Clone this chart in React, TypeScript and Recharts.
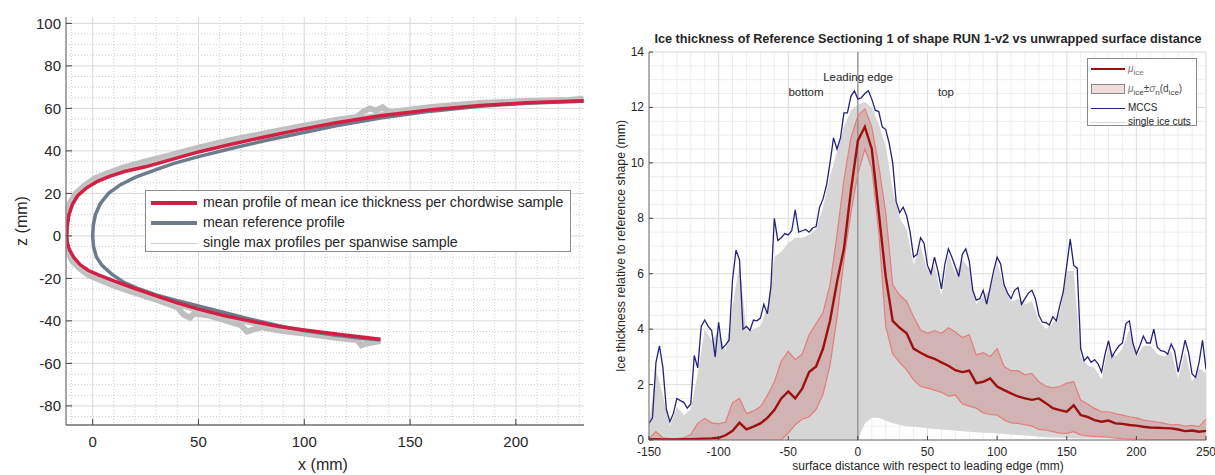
import React from 'react';
import { ComposedChart, Line, Area, XAxis, YAxis, CartesianGrid, ReferenceLine } from 'recharts';

const FONT = '"Liberation Sans", Arial, Helvetica, sans-serif';

// ---------- Left panel: profiles in the (x, z) plane, mm ----------
// Each branch runs from the leading edge towards the trailing end.
const meanIceUpper: [number, number][] = [
  [-12.3, 0], [-12, 5], [-11.2, 10], [-9.5, 15], [-7, 19], [-3, 22.5], [2, 25.5], [8, 28],
  [15, 30.3], [25, 32.5], [35, 35.3], [50, 39.5], [65, 43], [80, 46.3], [98, 50], [115, 53.2],
  [136, 56.5], [160, 59.3], [183, 61.3], [205, 62.6], [232, 63.6],
];
const meanIceLower: [number, number][] = [
  [-12.3, 0], [-12, -3], [-11, -6.5], [-9, -10], [-6, -13.5], [-2, -16.3], [3, -18.5], [10, -21.2],
  [19, -24.4], [30, -28.2], [40, -31.5], [50, -34.5], [62, -37.5], [74, -40], [88, -42.6],
  [100, -44.3], [115, -46.2], [125, -47.4], [136, -48.6],
];
const refUpper: [number, number][] = [
  [0, 0], [0.3, 5], [1.3, 10], [3.5, 15], [7.5, 20], [13, 24], [20, 27.5], [28, 30.5], [38, 34],
  [50, 37.3], [65, 41], [80, 44.5], [98, 48.3], [115, 51.8], [136, 55.5], [160, 58.7], [183, 61],
  [205, 62.4], [232, 63.4],
];
const refLower: [number, number][] = [
  [0, 0], [0.4, -5], [1.8, -10], [4.5, -14], [9, -18], [15, -22], [22, -25], [30, -27.8], [40, -30.5],
  [50, -33], [62, -36], [75, -39.3], [88, -42.3], [100, -44.6], [115, -46.8], [125, -48], [136, -49],
];
const singleOuterUpper: [number, number][] = [
  [-12.6, 0], [-12.5, 6], [-12, 11], [-10.5, 16], [-8, 20], [-4, 23.5], [1, 27], [7, 29.5], [14, 32],
  [25, 35], [35, 37.5], [50, 41.5], [65, 45], [80, 48], [98, 51.5], [115, 54.5], [125, 56], [128, 58.5],
  [131, 60], [134, 59], [137, 60.5], [140, 58.2], [160, 60.7], [183, 62.5], [205, 63.5], [225, 64],
  [232, 64.5],
];
const singleOuterLower: [number, number][] = [
  [-12.6, 0], [-12.5, -4], [-11.5, -8], [-9.5, -12], [-6, -15.5], [-2, -18.5], [3, -20.5], [10, -23.5],
  [19, -26.5], [30, -30], [40, -33.5], [43, -37], [46, -38.5], [48, -36.5], [55, -37.5], [62, -39.5],
  [70, -42], [73, -45], [76, -44], [80, -43], [88, -44.5], [100, -46], [115, -48], [125, -49],
  [127, -51.5], [130, -50.5], [136, -49.5],
];
const singleInnerUpper: [number, number][] = [
  [-12.4, 0], [-12.2, 6], [-11.5, 11], [-9.8, 15.5], [-7, 19.8], [-3, 23.3], [2, 26.3], [8, 28.8],
  [15, 31.2], [25, 33.7], [35, 36.4], [50, 40.5], [65, 44], [80, 47.2], [98, 50.8], [115, 54],
  [136, 57.3], [160, 60], [183, 62], [205, 63.1], [232, 64],
];
const singleInnerLower: [number, number][] = [
  [-12.4, 0], [-12.2, -3.5], [-11.2, -7.2], [-9.2, -11], [-6, -14.5], [-2, -17.3], [3, -19.5],
  [10, -22.3], [19, -25.4], [30, -29.2], [40, -32.5], [50, -35.5], [62, -38.5], [74, -41], [88, -43.5],
  [100, -45.2], [115, -47.2], [125, -48.3], [136, -49.2],
];

const leftXTicks = [0, 50, 100, 150, 200];
const leftYTicks = [-80, -60, -40, -20, 0, 20, 40, 60, 80, 100];
const leftXMinor = [-10, 10, 20, 30, 40, 60, 70, 80, 90, 110, 120, 130, 140, 160, 170, 180, 190, 210, 220, 230];
const leftYMinor = [-85, -75, -70, -65, -55, -50, -45, -35, -30, -25, -15, -10, -5, 5, 10, 15, 25, 30, 35, 45, 50, 55, 65, 70, 75, 85, 90, 95];

// join the lower branch (reversed) and the upper branch into one curve around the nose
const profile = (lower: [number, number][], upper: [number, number][]) =>
  [...lower.slice().reverse(), ...upper.slice(1)].map(([x, z]) => ({ x, z }));

// ---------- Right panel: ice thickness vs surface distance ----------
// sample positions: every 5 mm from -150 to 250
const sx = Array.from({ length: 81 }, (_, i) => -150 + 5 * i);
const muIce = [
  0.02, 0.03, 0.02, 0.02, 0.02, 0.03, 0.03, 0.04, 0.05, 0.06, 0.08,
  0.17, 0.33, 0.62, 0.38, 0.48, 0.6, 0.8, 1.08, 1.5, 1.75,
  1.5, 1.85, 2.45, 2.65, 3.3, 4.3, 5.7, 6.9, 9.0, 10.8,
  11.3, 10.5, 8.2, 5.9, 4.3, 4.05, 3.85, 3.3, 3.15, 3.02,
  2.93, 2.8, 2.68, 2.52, 2.45, 2.5, 2.05, 2.1, 2.22, 1.93,
  1.8, 1.68, 1.57, 1.5, 1.45, 1.5, 1.33, 1.15, 1.08, 1.02,
  1.25, 0.9, 0.83, 0.72, 0.66, 0.7, 0.6, 0.58, 0.54, 0.52,
  0.48, 0.45, 0.44, 0.43, 0.42, 0.38, 0.32, 0.34, 0.3, 0.33,
];
const sigmaHi = [
  0.05, 0.3, 0.08, 0.05, 0.05, 0.08, 0.2, 0.6, 0.78, 0.62, 0.58,
  0.65, 1.35, 1.5, 0.95, 1.05, 1.2, 1.6, 2.1, 2.85, 3.2,
  2.9, 3.1, 3.8, 4.2, 4.6, 5.6, 7.4, 9.4, 10.9, 11.7,
  11.95, 11.3, 9.9, 8.2, 5.6, 5.23, 5.0, 4.45, 3.97, 3.85,
  3.95, 3.85, 4.05, 3.9, 3.7, 3.8, 3.07, 3.15, 3.01, 3.3,
  2.65, 2.5, 2.5, 2.35, 2.4, 2.1, 1.95, 1.88, 1.93, 2.05,
  2.1, 1.44, 1.3, 1.14, 1.02, 1.02, 0.95, 0.9, 0.84, 0.8,
  0.72, 0.68, 0.65, 0.6, 0.55, 0.56, 0.5, 0.53, 0.48, 0.75,
];
const sigmaLo = [
  0, 0, 0, 0, 0, 0, 0, 0, 0, 0, 0,
  0, 0, 0, 0, 0, 0, 0, 0, 0, 0.25,
  0.55, 0.75, 0.84, 1.1, 1.65, 2.7, 4.4, 6.5, 8.2, 9.6,
  10.5, 9.8, 7.5, 4.1, 3.1, 2.8, 2.53, 2.17, 1.93, 1.87,
  1.8, 1.72, 1.58, 1.62, 1.3, 1.22, 1.15, 0.98, 0.92, 0.9,
  0.72, 0.62, 0.6, 0.55, 0.5, 0.38, 0.36, 0.3, 0.25, 0.24,
  0.3, 0.18, 0.15, 0.13, 0.12, 0.1, 0.07, 0.05, 0.04, 0.03,
  0.03, 0.02, 0.02, 0.02, 0.02, 0.02, 0.02, 0.02, 0.02, 0.02,
];
// envelope of the single ice cuts
const cutsMax = [
  0.5, 2.6, 1.6, 0.5, 1.2, 0.9, 1.1, 2.4, 4.0, 3.6, 3.9,
  3.2, 4.8, 6.4, 3.9, 4.0, 4.1, 4.8, 6.6, 6.8, 7.1,
  7.3, 7.3, 7.4, 7.6, 8.4, 9.5, 10.4, 11.3, 11.9, 12.1,
  12.2, 12.0, 11.4, 10.6, 9.0, 8.0, 7.6, 6.3, 7.0, 6.1,
  6.3, 5.2, 6.7, 6.0, 6.5, 6.2, 4.9, 5.2, 5.4, 6.4,
  5.5, 5.0, 5.1, 4.9, 5.0, 4.3, 4.0, 4.2, 4.6, 6.1,
  6.1, 3.0, 2.7, 2.6, 2.2, 3.4, 3.0, 3.3, 4.0, 3.0,
  3.4, 3.4, 3.1, 3.0, 3.2, 2.2, 3.2, 2.1, 2.6, 2.4,
];
const cutsMin = [
  0, 0, 0, 0, 0, 0, 0, 0, 0, 0, 0,
  0, 0, 0, 0, 0, 0, 0, 0, 0, 0,
  0, 0, 0, 0, 0, 0, 0, 0, 0, 0,
  0.6, 0.8, 0.8, 0.7, 0.6, 0.55, 0.5, 0.48, 0.45, 0.42,
  0.4, 0.38, 0.36, 0.34, 0.32, 0.3, 0.28, 0.26, 0.25, 0.24,
  0.22, 0.2, 0.18, 0.16, 0.14, 0.12, 0.1, 0.09, 0.08, 0.07,
  0.05, 0.05, 0.05, 0.05, 0.05, 0.05, 0.05, 0.05, 0.05, 0.05,
  0.05, 0.05, 0.05, 0.05, 0.05, 0.05, 0.05, 0.05, 0.05, 0.05,
];
// MCCS sampled every 2.5 mm from -150 to 250
const mccsX = Array.from({ length: 161 }, (_, i) => -150 + 2.5 * i);
const mccs = [
  0.6, 0.8, 2.8, 3.4, 2.6, 1.1, 0.66, 0.96, 1.5, 1.42,
  1.36, 1.15, 1.3, 3.05, 2.6, 4.1, 4.33, 4.1, 3.95, 3.0,
  4.25, 3.3, 3.43, 3.6, 5.8, 6.85, 6.5, 4.0, 4.1, 3.95,
  4.33, 4.3, 4.4, 4.9, 4.55, 5.5, 8.0, 7.2, 7.3, 7.45,
  7.4, 7.55, 8.3, 7.5, 7.55, 7.6, 7.5, 7.65, 7.7, 8.4,
  8.7, 9.2, 10.0, 10.9, 10.5, 10.9, 11.8, 11.8, 12.4, 12.6,
  12.3, 12.35, 12.5, 12.6, 12.3, 11.9, 11.85, 11.3, 11.2, 10.7,
  10.0, 8.6, 8.2, 8.4, 8.1, 7.5, 6.6, 6.7, 7.3, 7.1,
  6.3, 6.0, 6.6, 6.1, 5.45, 6.35, 6.9, 6.6, 6.25, 5.9,
  6.7, 6.9, 6.45, 5.4, 5.05, 5.1, 5.4, 4.9, 5.5, 6.1,
  6.6, 6.35, 5.6, 5.3, 5.1, 5.4, 5.5, 4.9, 5.1, 5.3,
  5.4, 5.1, 4.5, 4.25, 4.24, 4.15, 4.45, 4.3, 4.85, 5.35,
  6.3, 7.25, 6.3, 6.2, 3.3, 2.86, 3.0, 2.8, 2.9, 2.75,
  2.45, 3.1, 3.58, 3.0, 3.22, 3.4, 3.5, 4.2, 4.3, 3.5,
  3.1, 3.4, 3.75, 3.5, 3.5, 4.0, 3.35, 3.22, 3.2, 3.1,
  3.46, 3.2, 2.45, 3.0, 3.6, 3.15, 2.38, 2.26, 2.8, 3.6,
  2.55,
];

const rightXTicks = [-150, -100, -50, 0, 50, 100, 150, 200, 250];
const rightYTicks = [0, 2, 4, 6, 8, 10, 12, 14];
const rightXMinor = Array.from({ length: 41 }, (_, i) => -150 + 10 * i);
const rightYMinor = Array.from({ length: 29 }, (_, i) => 0.5 * i);

const thicknessRows = sx.map((x, i) => ({
  x,
  mu: muIce[i],
  hi: sigmaHi[i],
  lo: sigmaLo[i],
  band: [sigmaLo[i], sigmaHi[i]],
  cuts: [cutsMin[i], cutsMax[i]],
}));
const mccsRows = mccsX.map((x, i) => ({ x, v: mccs[i] }));

// ---------- tick renderers (ticks point into the axes) ----------
const makeYTick = (size: number, len: number) => (p: any) => (
  <g>
    <line x1={p.x} x2={p.x + len} y1={p.y} y2={p.y} stroke="#444" strokeWidth={1} />
    <text x={p.x - 5} y={p.y} textAnchor="end" dominantBaseline="central" fontSize={size} fill="#262626" fontFamily={FONT}>
      {p.payload.value}
    </text>
  </g>
);
const makeXTick = (size: number, len: number, dy: number) => (p: any) => (
  <g>
    <line x1={p.x} x2={p.x} y1={p.y} y2={p.y - len} stroke="#444" strokeWidth={1} />
    <text x={p.x} y={p.y + dy} textAnchor="middle" fontSize={size} fill="#262626" fontFamily={FONT}>
      {p.payload.value}
    </text>
  </g>
);

const abs = (style: React.CSSProperties): React.CSSProperties => ({ position: 'absolute', fontFamily: FONT, color: '#262626', whiteSpace: 'nowrap', ...style });

const LegendSwatch = ({ color, width }: { color: string; width: number }) => (
  <span style={{ display: 'inline-block', width: 46, height: 0, borderTop: `${width}px solid ${color}`, verticalAlign: 'middle', marginRight: 6 }} />
);

export default function App() {
  const meanProfile = profile(meanIceLower, meanIceUpper);
  const refProfile = profile(refLower, refUpper);
  const outerProfile = profile(singleOuterLower, singleOuterUpper);
  const innerProfile = profile(singleInnerLower, singleInnerUpper);

  return (
    <div style={{ position: 'absolute', left: 0, top: 0, width: 1215, height: 475, background: '#fff', overflow: 'hidden' }}>
      {/* left panel */}
      <div style={{ position: 'absolute', left: 0, top: 0 }}>
        <ComposedChart width={600} height={475} margin={{ top: 17, right: 16, bottom: 20, left: 0 }}>
          <CartesianGrid verticalValues={leftXMinor} horizontalValues={leftYMinor} stroke="#cfcfcf" strokeDasharray="1 2" />
          <CartesianGrid verticalValues={leftXTicks} horizontalValues={leftYTicks} stroke="#d9d9d9" />
          <XAxis type="number" dataKey="x" domain={[-12.6, 232.2]} ticks={leftXTicks} allowDataOverflow
            height={30} tickSize={0} tickMargin={0} tickLine={false}
            axisLine={{ stroke: '#6f6f6f', strokeWidth: 1.5 }} tick={makeXTick(15, 6, 22)} interval={0} />
          <YAxis type="number" dataKey="z" domain={[-89, 103]} ticks={leftYTicks} allowDataOverflow
            width={66} tickSize={0} tickMargin={0} tickLine={false}
            axisLine={{ stroke: '#8a8a8a', strokeWidth: 1.5 }} tick={makeYTick(15, 6)} interval={0} />
          <Line data={outerProfile} dataKey="z" stroke="#bfbfbf" strokeWidth={6} dot={false} isAnimationActive={false} />
          <Line data={innerProfile} dataKey="z" stroke="#c4c4c4" strokeWidth={4} dot={false} isAnimationActive={false} />
          <Line data={refProfile} dataKey="z" stroke="#6d7b8a" strokeWidth={3.5} dot={false} isAnimationActive={false} />
          <Line data={meanProfile} dataKey="z" stroke="#d21f45" strokeWidth={3.5} dot={false} isAnimationActive={false} />
        </ComposedChart>
      </div>
      <div style={abs({ left: 323, top: 456, fontSize: 16, transform: 'translateX(-50%)' })}>x (mm)</div>
      <div style={abs({ left: 22, top: 221, fontSize: 16, transform: 'translate(-50%, -50%) rotate(-90deg)' })}>z (mm)</div>
      <div style={abs({ left: 145, top: 190, width: 424, height: 59, border: '1px solid #8c8c8c', background: '#fff', fontSize: 14.2, lineHeight: '20px', paddingTop: 1 })}>
        <div style={{ paddingLeft: 5 }}><LegendSwatch color="#d21f45" width={4} />mean profile of mean ice thickness per chordwise sample</div>
        <div style={{ paddingLeft: 5 }}><LegendSwatch color="#6d7b8a" width={4} />mean reference profile</div>
        <div style={{ paddingLeft: 5 }}><LegendSwatch color="#cccccc" width={1} />single max profiles per spanwise sample</div>
      </div>

      {/* right panel */}
      <div style={{ position: 'absolute', left: 600, top: 0 }}>
        <ComposedChart width={615} height={475} data={thicknessRows} margin={{ top: 52, right: 9, bottom: 15, left: 0 }}>
          <CartesianGrid verticalValues={rightXMinor} horizontalValues={rightYMinor} stroke="#eeeeee" />
          <CartesianGrid verticalValues={rightXTicks} horizontalValues={rightYTicks} stroke="#e0e0e0" />
          <XAxis type="number" dataKey="x" domain={[-150, 250]} ticks={rightXTicks} allowDataOverflow
            height={20} tickSize={0} tickMargin={0} tickLine={false}
            axisLine={{ stroke: '#777', strokeWidth: 1 }} tick={makeXTick(12, 4, 16)} interval={0} />
          <YAxis type="number" domain={[0, 14]} ticks={rightYTicks} allowDataOverflow
            width={49} tickSize={0} tickMargin={0} tickLine={false}
            axisLine={{ stroke: '#777', strokeWidth: 1 }} tick={makeYTick(12, 4)} interval={0} />
          <Area dataKey="cuts" stroke="none" fill="#d6d6d6" fillOpacity={1} type="linear" isAnimationActive={false} />
          <Area dataKey="band" stroke="none" fill="#c85a5a" fillOpacity={0.28} type="linear" isAnimationActive={false} />
          <ReferenceLine x={0} stroke="#7a7a7a" strokeWidth={1} />
          <Line dataKey="hi" stroke="#e27f7c" strokeWidth={1.2} dot={false} type="linear" isAnimationActive={false} />
          <Line dataKey="lo" stroke="#e27f7c" strokeWidth={1.2} dot={false} type="linear" isAnimationActive={false} />
          <Line dataKey="mu" stroke="#9c1010" strokeWidth={2.4} dot={false} type="linear" isAnimationActive={false} />
          <Line data={mccsRows} dataKey="v" stroke="#24237c" strokeWidth={1.3} dot={false} type="linear" isAnimationActive={false} />
        </ComposedChart>
      </div>
      <div style={abs({ left: 928, top: 32, fontSize: 12.7, fontWeight: 'bold', transform: 'translateX(-50%)' })}>
        Ice thickness of Reference Sectioning 1 of shape RUN 1-v2 vs unwrapped surface distance
      </div>
      <div style={abs({ left: 928, top: 459, fontSize: 12, transform: 'translateX(-50%)' })}>surface distance with respect to leading edge (mm)</div>
      <div style={abs({ left: 621, top: 246, fontSize: 12.3, transform: 'translate(-50%, -50%) rotate(-90deg)' })}>Ice thickness relative to reference shape (mm)</div>
      <div style={abs({ left: 858, top: 71, fontSize: 11.5, transform: 'translateX(-50%)' })}>Leading edge</div>
      <div style={abs({ left: 806, top: 86, fontSize: 11.5, transform: 'translateX(-50%)' })}>bottom</div>
      <div style={abs({ left: 946, top: 86, fontSize: 11.5, transform: 'translateX(-50%)' })}>top</div>
      <div style={abs({ left: 1087, top: 58, width: 110, height: 68, border: '1px solid #8a8a8a', background: '#fff', fontSize: 10, lineHeight: '16px', paddingTop: 2, boxSizing: 'border-box' })}>
        <div style={{ paddingLeft: 3, color: '#777' }}>
          <span style={{ display: 'inline-block', width: 34, borderTop: '2px solid #9c1010', verticalAlign: 'middle', marginRight: 3 }} />
          <i>μ</i><sub style={{ fontSize: 8 }}>ice</sub>
        </div>
        <div style={{ paddingLeft: 3, color: '#444' }}>
          <span style={{ display: 'inline-block', width: 32, height: 8, border: '1px solid #888', background: '#f1dcdc', verticalAlign: 'middle', marginRight: 3 }} />
          <i style={{ color: '#777' }}>μ</i><sub style={{ fontSize: 8 }}>ice</sub>±<i style={{ color: '#777' }}>σ</i><sub style={{ fontSize: 8 }}>n</sub>(d<sub style={{ fontSize: 8 }}>ice</sub>)
        </div>
        <div style={{ paddingLeft: 3, lineHeight: '14px' }}>
          <span style={{ display: 'inline-block', width: 34, borderTop: '1px solid #24237c', verticalAlign: 'middle', marginRight: 3 }} />
          MCCS
        </div>
        <div style={{ paddingLeft: 3, lineHeight: '14px' }}>
          <span style={{ display: 'inline-block', width: 34, borderTop: '1px solid #d6d6d6', verticalAlign: 'middle', marginRight: 3 }} />
          single ice cuts
        </div>
      </div>
    </div>
  );
}
